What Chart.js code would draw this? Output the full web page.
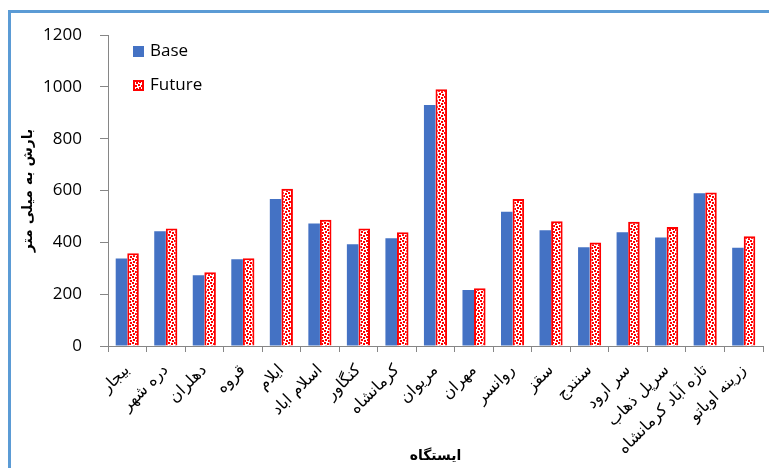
<!DOCTYPE html>
<html>
<head>
<meta charset="utf-8">
<script src="https://cdn.jsdelivr.net/npm/chart.js@4/dist/chart.umd.min.js"></script>
<style>
  body { margin: 0; background: #fff; }
  #wrap { position: relative; width: 769px; height: 468px; overflow: hidden; }
  #frame { position: absolute; left: 8px; top: 10px; width: 770px; height: 470px;
           border-left: 3px solid #5B9BD5; border-top: 3px solid #5B9BD5; }
  #chart { position: absolute; left: 0; top: 0; }
</style>
</head>
<body>
<div id="wrap">
  <div id="frame"></div>
  <canvas id="chart" width="769" height="468"></canvas>
</div>
<script>
// ایستگاه ها
const categories = ['بیجار', 'دره شهر', 'دهلران', 'قروه', 'ایلام', 'اسلام اباد', 'کنگاور', 'کرمانشاه', 'مریوان',
    'مهران', 'روانسر', 'سقز', 'سنندج', 'سر ارود', 'سرپل ذهاب', 'تازه آباد کرمانشاه', 'زرینه اوباتو'];

// بارش (میلی متر)
const baseValues   = [338, 443, 273, 335, 567, 473, 393, 416, 930, 216, 518, 447, 381, 439, 419, 589, 379];
const futureValues = [358, 453, 285, 339, 607, 487, 453, 439, 991, 223, 567, 481, 399, 479, 459, 592, 423];

const yTicks = [0, 200, 400, 600, 800, 1000, 1200];

// الگوی نقطه‌ای قرمز برای سری Future
function makeConfetti() {
    const c = document.createElement('canvas');
    c.width = 6; c.height = 6;
    const g = c.getContext('2d');
    g.fillStyle = '#fff';
    g.fillRect(0, 0, 6, 6);
    g.fillStyle = '#f00';
    g.fillRect(0, 0, 2, 2);
    g.fillRect(3, 1, 2, 2);
    g.fillRect(1, 3, 2, 2);
    g.fillRect(4, 4, 2, 2);
    return g.createPattern(c, 'repeat');
}

const ctx = document.getElementById('chart').getContext('2d');
const confetti = makeConfetti();

// راهنما داخل ناحیه نمودار
const insideLegend = {
    id: 'insideLegend',
    afterDraw(chart) {
        const { ctx, chartArea } = chart;
        ctx.save();
        chart.data.datasets.forEach((ds, i) => {
            const x = chartArea.left + 25;
            const y = chartArea.top + 11 + i * 34;
            ctx.fillStyle = ds.backgroundColor;
            ctx.fillRect(x, y, 11, 11);
            if (ds.borderWidth) {
                ctx.strokeStyle = ds.borderColor;
                ctx.lineWidth = 2;
                ctx.strokeRect(x + 1, y + 1, 9, 9);
            }
            ctx.fillStyle = '#000';
            ctx.font = '17px "Open Sans"';
            ctx.textBaseline = 'middle';
            ctx.textAlign = 'left';
            ctx.fillText(ds.label, x + 17, y + 5);
        });
        ctx.restore();
    }
};

new Chart(ctx, {
    type: 'bar',
    data: {
        labels: categories,
        datasets: [
            {
                label: 'Base',
                data: baseValues,
                backgroundColor: '#4472C4',
                borderWidth: 0,
                barPercentage: 1,
                categoryPercentage: 0.6
            },
            {
                label: 'Future',
                data: futureValues,
                backgroundColor: confetti,
                borderColor: '#FF0000',
                borderWidth: 2,
                barPercentage: 1,
                categoryPercentage: 0.6
            }
        ]
    },
    options: {
        responsive: false,
        animation: false,
        devicePixelRatio: 1,
        layout: { padding: { left: 20, right: 6, top: 35, bottom: 3 } },
        plugins: {
            legend: { display: false },
            tooltip: { enabled: false }
        },
        scales: {
            x: {
                grid: { drawOnChartArea: false, tickLength: 6, color: '#868686', offset: true },
                border: { color: '#868686' },
                ticks: {
                    autoSkip: false,
                    maxRotation: 45,
                    minRotation: 45,
                    padding: 9,
                    color: '#000',
                    font: { family: '"DejaVu Sans"', size: 16 }
                },
                title: {
                    display: true,
                    text: 'ایستگاه',
                    color: '#000',
                    padding: { top: 0, bottom: 0 },
                    font: { family: '"DejaVu Sans"', size: 14, weight: 'bold' }
                },
                afterFit(scale) { scale.height = 119; }
            },
            y: {
                min: 0,
                max: 1200,
                afterBuildTicks(scale) { scale.ticks = yTicks.map(v => ({ value: v })); },
                grid: { drawOnChartArea: false, tickLength: 8, color: '#868686' },
                border: { color: '#868686' },
                ticks: {
                    padding: 18,
                    color: '#000',
                    font: { family: '"Open Sans"', size: 17 },
                    callback: v => String(v)
                },
                title: {
                    display: true,
                    text: 'بارش به میلی متر',
                    color: '#000',
                    padding: 0,
                    font: { family: '"DejaVu Sans"', size: 14, weight: 'bold' }
                },
                afterFit(scale) { scale.width = 88; }
            }
        }
    },
    plugins: [insideLegend]
});
</script>
</body>
</html>
